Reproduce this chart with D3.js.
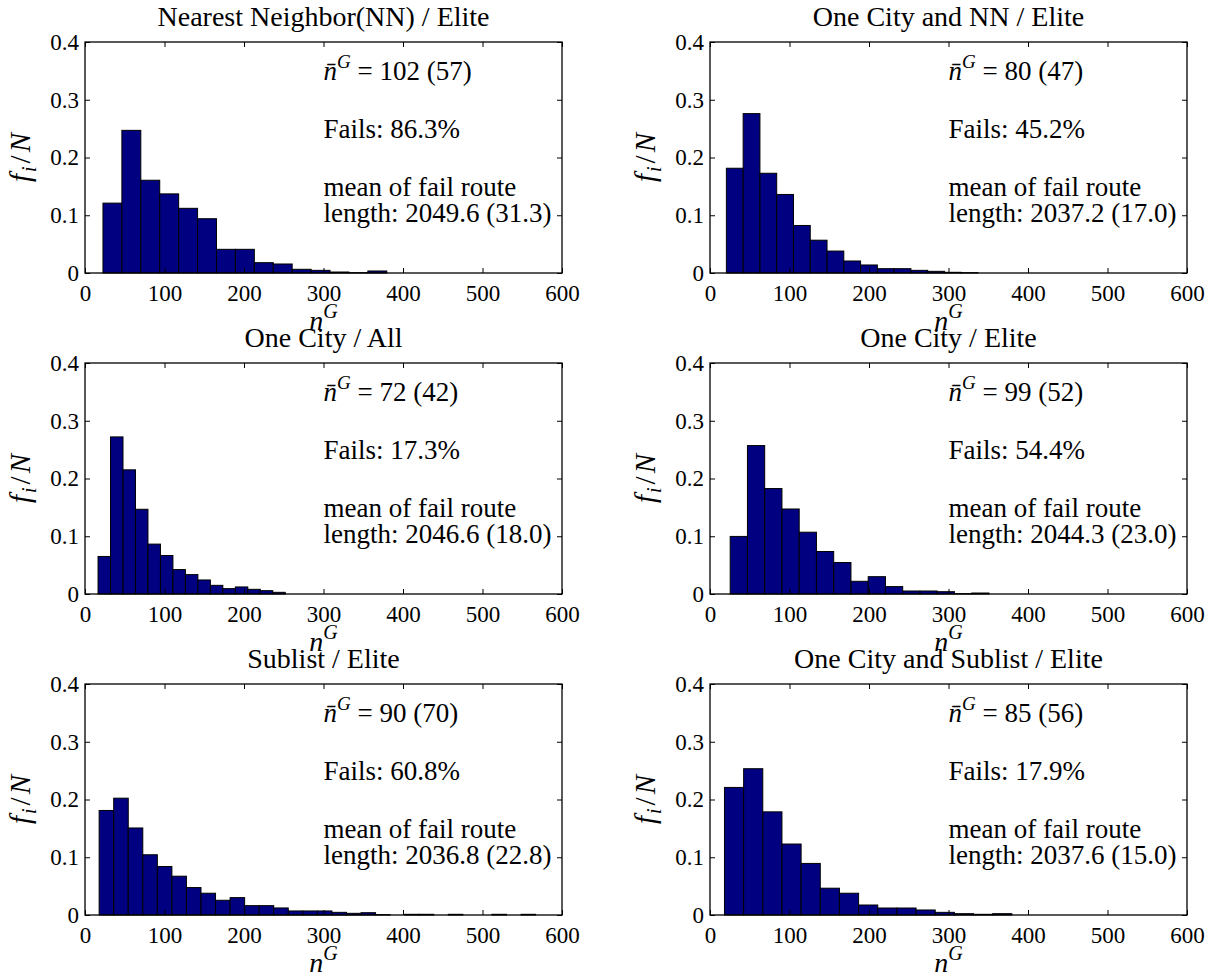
<!DOCTYPE html>
<html>
<head>
<meta charset="utf-8">
<script src="https://cdn.jsdelivr.net/npm/d3@7"></script>
<style>
  body { margin: 0; background: #fff; }
</style>
</head>
<body>
<svg id="fig" width="1217" height="980"></svg>
<script>
// panel titles (row by row, left to right)
const titles = [
    "Nearest Neighbor(NN) / Elite",
    "One City and NN / Elite",
    "One City / All",
    "One City / Elite",
    "Sublist / Elite",
    "One City and Sublist / Elite"
];

// annotation values
const meanGen = ["102 (57)", "80 (47)", "72 (42)", "99 (52)", "90 (70)", "85 (56)"];
const failPct = ["86.3%", "45.2%", "17.3%", "54.4%", "60.8%", "17.9%"];
const failLen = ["2049.6 (31.3)", "2037.2 (17.0)", "2046.6 (18.0)", "2044.3 (23.0)", "2036.8 (22.8)", "2037.6 (15.0)"];

// histogram bin widths
const binWidth = [23.8, 21.1, 15.7, 21.7, 18.3, 24.1];

// bin centers
const centers1 = [34.5, 58.3, 82.1, 105.9, 129.7, 153.5, 177.3, 201.1, 224.9, 248.7, 272.5, 296.3, 320.1, 343.9, 367.7];
const centers2 = [31.15, 52.25, 73.35, 94.45, 115.55, 136.65, 157.75, 178.85, 199.95, 221.05, 242.15, 263.25, 284.35, 305.45, 326.55];
const centers3 = [24.25, 39.95, 55.65, 71.35, 87.05, 102.75, 118.45, 134.15, 149.85, 165.55, 181.25, 196.95, 212.65, 228.35, 244.05];
const centers4 = [36.25, 57.95, 79.65, 101.35, 123.05, 144.75, 166.45, 188.15, 209.85, 231.55, 253.25, 274.95, 296.65, 318.35, 340.05];
const centers5 = [26.95, 45.25, 63.55, 81.85, 100.15, 118.45, 136.75, 155.05, 173.35, 191.65, 209.95, 228.25, 246.55, 264.85, 283.15,
                  301.45, 319.75, 338.05, 356.35, 374.65, 392.95, 411.25, 429.55, 447.85, 466.15, 484.45, 502.75, 521.05, 539.35, 557.65];
const centers6 = [30.25, 54.35, 78.45, 102.55, 126.65, 150.75, 174.85, 198.95, 223.05, 247.15, 271.25, 295.35, 319.45, 343.55, 367.65];

// relative frequencies f_i/N
const freq1 = [0.121, 0.247, 0.1606, 0.137, 0.112, 0.094, 0.041, 0.041, 0.0179, 0.0156, 0.0064, 0.0046, 0.0017, 0.0005, 0.0035];
const freq2 = [0.1814, 0.276, 0.1727, 0.136, 0.0823, 0.0568, 0.038, 0.0208, 0.0139, 0.0075, 0.0075, 0.0046, 0.0029, 0.0012, 0.0005];
const freq3 = [0.065, 0.272, 0.215, 0.1467, 0.0864, 0.0667, 0.0423, 0.0336, 0.0243, 0.015, 0.0093, 0.0122, 0.0081, 0.0058, 0.0029];
const freq4 = [0.0997, 0.257, 0.1826, 0.1472, 0.107, 0.0736, 0.0545, 0.022, 0.030, 0.0128, 0.0052, 0.0052, 0.004, 0.0006, 0.0017];
const freq5 = [0.181, 0.2023, 0.1507, 0.1043, 0.084, 0.0672, 0.0475, 0.0377, 0.0255, 0.0301, 0.0162, 0.0162, 0.0122, 0.007, 0.007,
               0.007, 0.0046, 0.0029, 0.004, 0.0006, 0, 0.0012, 0.0012, 0, 0.0012, 0, 0, 0.0012, 0, 0.0012];
const freq6 = [0.2209, 0.2533, 0.1786, 0.1229, 0.0893, 0.0464, 0.0377, 0.0173, 0.0121, 0.0121, 0.0087, 0.0046, 0.0023, 0.0012, 0.0023];

const xTicks = [0, 100, 200, 300, 400, 500, 600];
const yTicks = [0, 0.1, 0.2, 0.3, 0.4];

const allCenters = [centers1, centers2, centers3, centers4, centers5, centers6];
const allFreq = [freq1, freq2, freq3, freq4, freq5, freq6];

const FONT = "'Liberation Serif'";

const svg = d3.select("#fig");
svg.append("rect").attr("width", 1217).attr("height", 980).attr("fill", "#fff");

const colLeft = [85, 710];
const rowTop = [42, 363, 684];
const w = 477, h = 231;

for (let p = 0; p < 6; p++) {
    drawPanel(p, colLeft[p % 2], rowTop[Math.floor(p / 2)]);
}

function addText(g, x, y, size) {
    return g.append("text")
        .attr("x", x)
        .attr("y", y)
        .attr("fill", "#000")
        .style("font-family", FONT)
        .style("font-size", size + "px");
}

function drawPanel(p, left, top) {
    const g = svg.append("g").attr("transform", `translate(${left},${top})`);

    const x = d3.scaleLinear().domain([0, 600]).range([0, w]);
    const y = d3.scaleLinear().domain([0, 0.4]).range([h, 0]);

    const bins = allCenters[p].map((c, i) => ({c: c, f: allFreq[p][i]}));
    const bw = binWidth[p];

    // bars
    g.append("g")
        .selectAll("rect")
        .data(bins)
        .enter()
        .append("rect")
        .attr("x", d => x(d.c - bw / 2))
        .attr("y", d => y(d.f))
        .attr("width", x(bw) - x(0))
        .attr("height", d => y(0) - y(d.f))
        .attr("fill", "#000080")
        .attr("stroke", "#000")
        .attr("stroke-width", 1);

    const fmtY = d => d === 0 ? "0" : d3.format(".1f")(d);

    // axes, ticks pointing inside like matlab
    const xb = g.append("g").attr("transform", `translate(0,${h})`)
        .call(d3.axisBottom(x).tickValues(xTicks).tickSizeInner(-5).tickSizeOuter(0).tickPadding(12));
    const xt = g.append("g")
        .call(d3.axisTop(x).tickValues(xTicks).tickSizeInner(-5).tickSizeOuter(0).tickFormat(""));
    const yl = g.append("g")
        .call(d3.axisLeft(y).tickValues(yTicks).tickSizeInner(-5).tickSizeOuter(0).tickPadding(6).tickFormat(fmtY));
    const yr = g.append("g").attr("transform", `translate(${w},0)`)
        .call(d3.axisRight(y).tickValues(yTicks).tickSizeInner(-5).tickSizeOuter(0).tickFormat(""));

    [xb, xt, yl, yr].forEach(a => {
        a.attr("font-family", null).attr("font-size", null);
        a.select(".domain").remove();
        a.selectAll("line").attr("stroke", "#000").attr("stroke-width", 1);
        a.selectAll("text")
            .style("font-family", FONT)
            .style("font-size", "23px")
            .attr("fill", "#000");
    });

    // box
    g.append("rect")
        .attr("x", 0).attr("y", 0)
        .attr("width", w).attr("height", h)
        .attr("fill", "none")
        .attr("stroke", "#000")
        .attr("stroke-width", 1.3);

    // title
    addText(g, w / 2, -16, 28)
        .attr("text-anchor", "middle")
        .text(titles[p]);

    // x label n^G (overlaps the next title, as in the original figure)
    const xl = addText(g, w / 2, h + 57, 28).attr("text-anchor", "middle");
    xl.append("tspan").style("font-style", "italic").text("n");
    xl.append("tspan").style("font-style", "italic").style("font-size", "20px").attr("dy", -12).text("G");

    // y label f_i/N
    const ylab = addText(g, 0, 0, 29)
        .attr("transform", `translate(-55,${h / 2}) rotate(-90)`)
        .attr("text-anchor", "middle");
    ylab.append("tspan").style("font-style", "italic").text("f");
    ylab.append("tspan").style("font-style", "italic").style("font-size", "20px").attr("dx", 2).attr("dy", 6).text("i");
    ylab.append("tspan").attr("dx", 3).attr("dy", -6).text("/");
    ylab.append("tspan").style("font-style", "italic").attr("dx", 3).text("N");

    // annotations
    const tx = x(300);
    const t1 = addText(g, tx, 38, 27);
    t1.append("tspan").style("font-style", "italic").text("n\u0304");
    t1.append("tspan").style("font-style", "italic").style("font-size", "19px").attr("dy", -12).text("G");
    t1.append("tspan").attr("dy", 12).text(" = " + meanGen[p]);

    addText(g, tx, 96, 27).text("Fails: " + failPct[p]);
    addText(g, tx, 154, 27).text("mean of fail route");
    addText(g, tx, 180, 27).text("length: " + failLen[p]);
}
</script>
</body>
</html>
